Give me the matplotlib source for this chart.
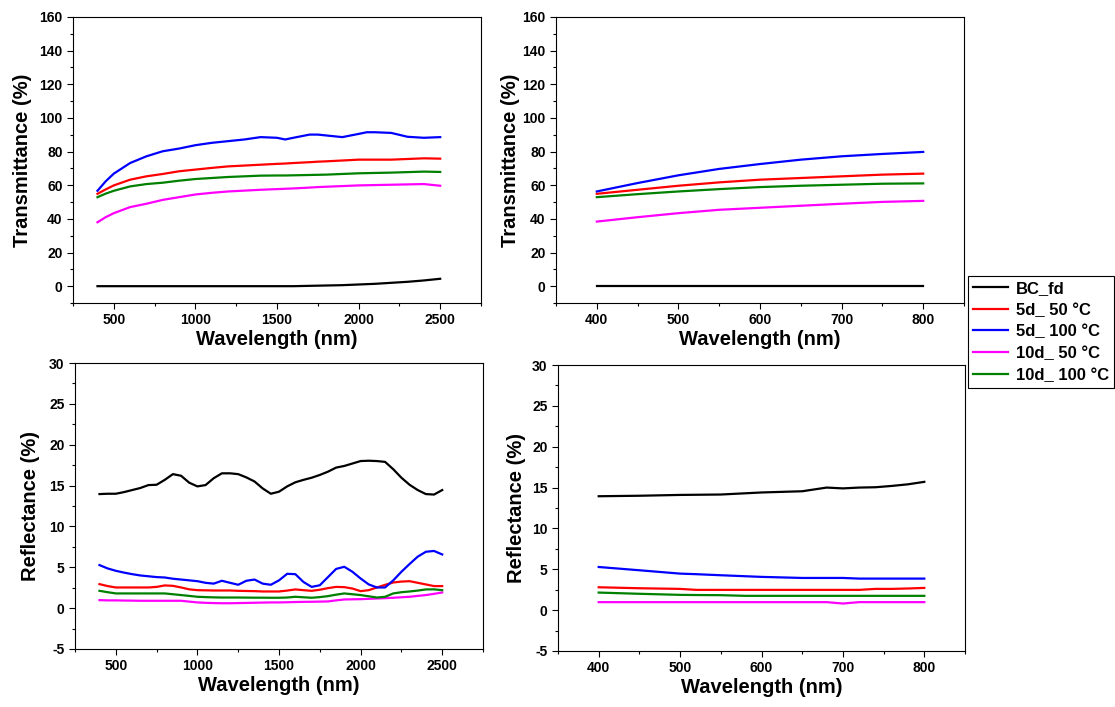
import numpy as np
import matplotlib
matplotlib.use("Agg")
import matplotlib.pyplot as plt
from matplotlib.ticker import MultipleLocator

plt.rcParams['font.family'] = ['Liberation Sans', 'DejaVu Sans']
plt.rcParams['font.weight'] = 'bold'
plt.rcParams['axes.unicode_minus'] = False

#%% data
labels = ["BC_fd", "5d_ 50 \u00b0C", "5d_ 100 \u00b0C", "10d_ 50 \u00b0C", "10d_ 100 \u00b0C"]
colors = ["black", "red", "blue", "magenta", "green"]

# transmittance, full range (400-2500 nm)
wl_T = [400, 450, 500, 600, 700, 800, 900, 1000, 1100, 1200, 1300, 1400, 1500, 1550, 1600,
        1700, 1750, 1800, 1900, 2000, 2050, 2100, 2200, 2300, 2400, 2500]
T_bc = [0, 0, 0, 0, 0, 0, 0, 0, 0, 0, 0, 0, 0, 0, 0,
        0.2, 0.3, 0.4, 0.6, 1.0, 1.2, 1.4, 2.0, 2.6, 3.4, 4.4]
T_5d50 = [54.9, 57.5, 59.9, 63.3, 65.3, 66.7, 68.3, 69.3, 70.3, 71.2, 71.7, 72.2, 72.7, 72.9, 73.2,
          73.7, 74.0, 74.2, 74.7, 75.2, 75.2, 75.2, 75.2, 75.6, 76.0, 75.8]
T_5d100 = [56.7, 62.3, 66.9, 73.2, 77.2, 80.2, 81.8, 83.8, 85.2, 86.2, 87.2, 88.6, 88.2, 87.2, 88.2,
           90.1, 90.1, 89.6, 88.6, 90.5, 91.5, 91.5, 91.1, 88.8, 88.2, 88.6]
T_10d50 = [38.0, 41.0, 43.4, 47.0, 49.0, 51.3, 52.9, 54.5, 55.5, 56.3, 56.8, 57.3, 57.7, 57.9, 58.1,
           58.6, 58.9, 59.1, 59.5, 59.9, 60.0, 60.1, 60.3, 60.5, 60.7, 59.7]
T_10d100 = [52.9, 55.0, 56.7, 59.3, 60.7, 61.5, 62.7, 63.7, 64.3, 64.9, 65.3, 65.7, 65.8, 65.8, 65.9,
            66.1, 66.2, 66.3, 66.7, 67.1, 67.2, 67.3, 67.5, 67.8, 68.1, 67.9]

# transmittance, visible range (400-800 nm)
wl_Tv = [400, 450, 500, 550, 600, 650, 700, 750, 800]
Tv_bc = [0, 0, 0, 0, 0, 0, 0, 0, 0]
Tv_5d50 = [54.9, 57.3, 59.7, 61.7, 63.3, 64.3, 65.3, 66.3, 66.9]
Tv_5d100 = [56.3, 61.3, 65.9, 69.7, 72.6, 75.2, 77.2, 78.6, 79.8]
Tv_10d50 = [38.4, 41.0, 43.4, 45.4, 46.6, 47.8, 49.0, 50.1, 50.7]
Tv_10d100 = [52.9, 54.7, 56.3, 57.7, 58.9, 59.7, 60.3, 60.9, 61.1]

# reflectance, full range
wl_R = [400, 450, 500, 550, 600, 650, 700, 750, 800, 850, 900, 950, 1000, 1050, 1100, 1150,
        1200, 1250, 1300, 1350, 1400, 1450, 1500, 1550, 1600, 1650, 1700, 1750, 1800, 1850,
        1900, 1950, 2000, 2050, 2100, 2150, 2200, 2250, 2300, 2350, 2400, 2450, 2500]
R_bc = [13.96, 14.0, 14.0, 14.2, 14.45, 14.7, 15.06, 15.1, 15.7, 16.4, 16.2, 15.35, 14.9, 15.06,
        15.9, 16.5, 16.5, 16.4, 16.0, 15.5, 14.65, 14.0, 14.25, 14.9, 15.4, 15.7, 15.96, 16.3,
        16.7, 17.2, 17.4, 17.7, 18.0, 18.04, 18.0, 17.9, 17.0, 15.96, 15.1, 14.45, 13.96, 13.9, 14.45]
R_5d50 = [2.94, 2.7, 2.53, 2.53, 2.53, 2.53, 2.53, 2.6, 2.78, 2.73, 2.53, 2.3, 2.2, 2.18, 2.16,
          2.16, 2.16, 2.12, 2.1, 2.08, 2.04, 2.04, 2.04, 2.15, 2.29, 2.2, 2.12, 2.25, 2.45, 2.6,
          2.57, 2.4, 2.08, 2.2, 2.53, 2.85, 3.14, 3.25, 3.3, 3.1, 2.9, 2.7, 2.7]
R_5d100 = [5.27, 4.86, 4.57, 4.35, 4.16, 4.0, 3.9, 3.8, 3.75, 3.6, 3.5, 3.4, 3.3, 3.1, 3.0, 3.35,
           3.1, 2.86, 3.35, 3.5, 3.0, 2.86, 3.4, 4.2, 4.16, 3.2, 2.6, 2.8, 3.8, 4.8, 5.06, 4.45,
           3.63, 2.9, 2.53, 2.53, 3.4, 4.45, 5.4, 6.3, 6.9, 7.0, 6.57]
R_10d50 = [0.98, 0.95, 0.95, 0.93, 0.92, 0.9, 0.9, 0.9, 0.9, 0.9, 0.9, 0.8, 0.7, 0.65, 0.62, 0.6,
           0.6, 0.62, 0.64, 0.66, 0.68, 0.7, 0.7, 0.72, 0.75, 0.77, 0.78, 0.8, 0.82, 0.95, 1.06,
           1.08, 1.1, 1.14, 1.18, 1.22, 1.27, 1.33, 1.39, 1.5, 1.6, 1.75, 1.92]
R_10d100 = [2.12, 1.95, 1.8, 1.8, 1.8, 1.8, 1.8, 1.8, 1.8, 1.7, 1.6, 1.5, 1.39, 1.35, 1.32, 1.3,
            1.3, 1.3, 1.29, 1.28, 1.28, 1.27, 1.27, 1.3, 1.39, 1.33, 1.27, 1.35, 1.47, 1.65, 1.8,
            1.7, 1.6, 1.45, 1.3, 1.39, 1.8, 1.95, 2.04, 2.15, 2.29, 2.3, 2.2]

# reflectance, visible range
wl_Rv = [400, 450, 500, 520, 550, 580, 600, 650, 680, 700, 720, 740, 760, 780, 800]
Rv_bc = [13.94, 14.0, 14.1, 14.12, 14.15, 14.3, 14.4, 14.55, 15.0, 14.9, 15.0, 15.04, 15.2, 15.4, 15.7]
Rv_5d50 = [2.8, 2.68, 2.6, 2.48, 2.48, 2.48, 2.48, 2.48, 2.48, 2.48, 2.48, 2.6, 2.6, 2.65, 2.72]
Rv_5d100 = [5.28, 4.88, 4.47, 4.4, 4.27, 4.15, 4.07, 3.94, 3.94, 3.94, 3.86, 3.86, 3.86, 3.86, 3.86]
Rv_10d50 = [0.98, 0.98, 0.98, 0.98, 0.98, 0.98, 0.98, 0.98, 0.98, 0.81, 0.98, 0.98, 0.98, 0.98, 0.98]
Rv_10d100 = [2.15, 2.0, 1.87, 1.85, 1.83, 1.75, 1.75, 1.75, 1.75, 1.75, 1.75, 1.75, 1.75, 1.75, 1.75]

#%% figure
W, H = 1115, 707
fig = plt.figure(figsize=(W / 100, H / 100), dpi=100)

def px_axes(l, t, r, b):
    return fig.add_axes([l / W, 1 - b / H, (r - l) / W, (b - t) / H])

panels = [
    (px_axes(73, 17, 481, 303), wl_T, [T_bc, T_5d50, T_5d100, T_10d50, T_10d100],
     (250, 2750), 500, 250, (-10, 160), 20, 10, "Transmittance (%)", 5.3),
    (px_axes(556, 17, 964, 303), wl_Tv, [Tv_bc, Tv_5d50, Tv_5d100, Tv_10d50, Tv_10d100],
     (350, 850), 100, 50, (-10, 160), 20, 10, "Transmittance (%)", 2),
    (px_axes(75, 363, 483, 649), wl_R, [R_bc, R_5d50, R_5d100, R_10d50, R_10d100],
     (250, 2750), 500, 250, (-5, 30), 5, 2.5, "Reflectance (%)", 6.7),
    (px_axes(558, 365, 965, 651), wl_Rv, [Rv_bc, Rv_5d50, Rv_5d100, Rv_10d50, Rv_10d100],
     (350, 850), 100, 50, (-5, 30), 5, 2.5, "Reflectance (%)", 4.2),
]

for ax, wl, series, xl, xmaj, xmin, yl, ymaj, ymin, ylab, ypad in panels:
    for ys, c, lab in zip(series, colors, labels):
        ax.plot(wl, ys, color=c, lw=1.6, label=lab)
    ax.set_xlim(*xl)
    ax.set_ylim(*yl)
    ax.xaxis.set_major_locator(MultipleLocator(xmaj))
    ax.xaxis.set_minor_locator(MultipleLocator(xmin))
    ax.yaxis.set_major_locator(MultipleLocator(ymaj))
    ax.yaxis.set_minor_locator(MultipleLocator(ymin))
    if xl[0] == 250:
        ax.set_xticks([500, 1000, 1500, 2000, 2500])
    ax.tick_params(which='both', direction='out', top=False, right=False,
                   labelsize=10, width=0.8)
    ax.tick_params(which='major', length=4)
    ax.tick_params(which='minor', length=2)
    for lbl in ax.get_xticklabels() + ax.get_yticklabels():
        lbl.set_fontweight('bold')
    for sp in ax.spines.values():
        sp.set_linewidth(0.8)
    ax.set_xlabel("Wavelength (nm)", fontsize=14.5, fontweight='bold', labelpad=2)
    ax.set_ylabel(ylab, fontsize=14.5, fontweight='bold', labelpad=ypad)

handles, labs = panels[0][0].get_legend_handles_labels()
leg = fig.legend(handles, labs, loc='upper left', bbox_to_anchor=(968 / W, 1 - 276 / H),
                 fancybox=False, edgecolor='black', framealpha=1,
                 prop={'weight': 'bold', 'size': 12}, handlelength=2.1, handletextpad=0.5,
                 labelspacing=0.4, borderpad=0.3, borderaxespad=0)
leg.get_frame().set_linewidth(0.8)

fig.savefig("out.png", dpi=100)
